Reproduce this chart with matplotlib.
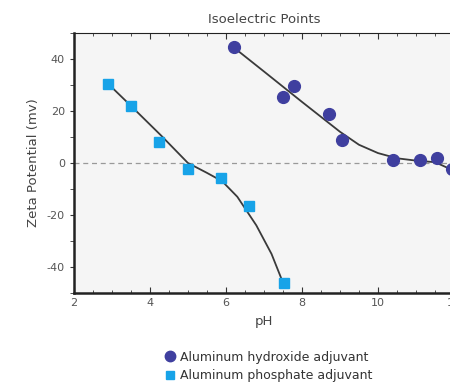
import matplotlib.pyplot as plt
from matplotlib.lines import Line2D
from matplotlib.ticker import MultipleLocator

plt.rcParams["axes.unicode_minus"] = False

#---DATA---
hydroxide_ph = [6.2, 7.5, 7.8, 8.7, 9.05, 10.4, 11.1, 11.55, 11.95]
hydroxide_zeta = [44.5, 25.5, 29.5, 19, 9, 1, 1, 2, -2.5]
hydroxide_fit_ph = [6.2, 7.0, 8.0, 9.0, 9.5, 10.0, 10.5, 11.0, 11.5, 12.0]
hydroxide_fit_zeta = [44.5, 35.2, 23.5, 12, 7, 3.8, 1.8, 0.9, 0.3, -3]

phosphate_ph = [2.9, 3.5, 4.25, 5.0, 5.87, 6.6, 7.53]
phosphate_zeta = [30.5, 22, 8, -2.5, -5.8, -16.5, -46]
phosphate_fit_ph = [2.9, 3.5, 4.3, 5.0, 5.5, 5.9, 6.3, 6.8, 7.2, 7.5]
phosphate_fit_zeta = [30.5, 22, 10.5, 0, -3.8, -7, -13, -24, -35, -46]

hydroxide_color = "#3f3f9f"
phosphate_color = "#17a3e8"

#---PLOT---
fig = plt.figure(figsize=(4.5, 3.88), dpi=100)
ax = fig.add_axes([0.164, 0.245, 0.845, 0.67])
ax.set_facecolor("#f5f5f5")

ax.axhline(0, color="#999999", linestyle=(0, (4, 3)), linewidth=0.9, zorder=1)

ax.plot(hydroxide_fit_ph, hydroxide_fit_zeta, color="#3a3a3a", linewidth=1.3, zorder=2)
ax.plot(phosphate_fit_ph, phosphate_fit_zeta, color="#3a3a3a", linewidth=1.3, zorder=2)
ax.plot(hydroxide_ph, hydroxide_zeta, "o", color=hydroxide_color, markersize=8.5,
        linestyle="none", zorder=3)
ax.plot(phosphate_ph, phosphate_zeta, "s", color=phosphate_color, markersize=6.5,
        linestyle="none", zorder=3)

ax.set_xlim(2, 12)
ax.set_ylim(-50, 50)
ax.xaxis.set_major_locator(MultipleLocator(2))
ax.xaxis.set_minor_locator(MultipleLocator(0.5))
ax.yaxis.set_major_locator(MultipleLocator(20))
ax.yaxis.set_minor_locator(MultipleLocator(10))
ax.tick_params(axis="both", which="both", labelsize=8, labelcolor="#555555",
               color="#333333")
ax.tick_params(axis="x", which="both", direction="in", top=True)
ax.tick_params(axis="x", which="major", length=4)
ax.tick_params(axis="x", which="minor", length=2)
ax.tick_params(axis="y", which="major", length=3)
ax.tick_params(axis="y", which="minor", length=3)

ax.spines["left"].set_linewidth(1.8)
ax.spines["bottom"].set_linewidth(1.8)
ax.spines["top"].set_linewidth(0.8)
ax.spines["right"].set_visible(False)
for s in ax.spines.values():
    s.set_color("#222222")

ax.set_title("Isoelectric Points", fontsize=9.5, color="#444444", pad=7)
ax.set_xlabel("pH", fontsize=9.5, color="#444444", labelpad=5)
ax.set_ylabel("Zeta Potential (mv)", fontsize=9.5, color="#444444", labelpad=5)

handles = [
    Line2D([], [], marker="o", color=hydroxide_color, linestyle="none", markersize=7.5,
           label="Aluminum hydroxide adjuvant"),
    Line2D([], [], marker="s", color=phosphate_color, linestyle="none", markersize=6,
           label="Aluminum phosphate adjuvant"),
]
fig.legend(handles=handles, loc="center left", bbox_to_anchor=(0.335, 0.055),
           frameon=False, fontsize=9, handletextpad=0.2, labelspacing=0.45,
           handlelength=1.2, labelcolor="#333333")

plt.savefig("out.png", dpi=100)
